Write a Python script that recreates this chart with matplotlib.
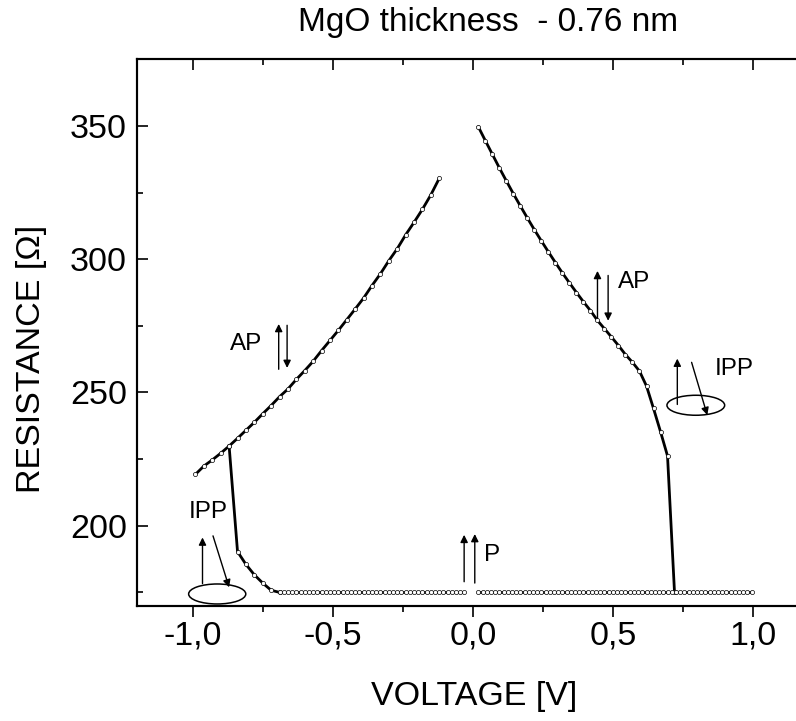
import numpy as np
import matplotlib
matplotlib.use("Agg")
import matplotlib.pyplot as plt
from matplotlib.patches import Ellipse
from matplotlib.ticker import MultipleLocator, FuncFormatter

plt.rcParams['font.family'] = ['Liberation Sans', 'DejaVu Sans']

# --- data ---
# AP branch, negative bias
v_ap_neg = [-0.99, -0.96, -0.93, -0.90, -0.87, -0.84, -0.81, -0.78, -0.75, -0.72,
            -0.69, -0.66, -0.63, -0.60, -0.57, -0.54, -0.51, -0.48, -0.45, -0.42,
            -0.39, -0.36, -0.33, -0.30, -0.27, -0.24, -0.21, -0.18, -0.15, -0.12]
r_ap_neg = [219.3, 222.4, 224.7, 227.2, 229.9, 232.8, 235.8, 238.8, 242.0, 245.1,
            248.4, 251.3, 254.9, 258.2, 261.7, 265.7, 269.5, 273.3, 277.3, 281.3,
            285.4, 290.1, 294.5, 299.4, 303.9, 309.1, 313.8, 318.7, 324.1, 330.3]

# switching AP -> P, negative bias
v_sw_neg = [-0.87, -0.84, -0.81, -0.78, -0.75, -0.72, -0.69]
r_sw_neg = [229.9, 190.3, 185.5, 181.6, 178.5, 175.8, 175.0]

# P state, negative bias
v_p_neg = [-0.690, -0.675, -0.660, -0.645, -0.630, -0.615, -0.600, -0.585, -0.570,
           -0.555, -0.540, -0.525, -0.510, -0.495, -0.480, -0.465, -0.450, -0.435,
           -0.420, -0.405, -0.390, -0.375, -0.360, -0.345, -0.330, -0.315, -0.300,
           -0.285, -0.270, -0.255, -0.240, -0.225, -0.210, -0.195, -0.180, -0.165,
           -0.150, -0.135, -0.120, -0.105, -0.090, -0.075, -0.060, -0.045, -0.030]
r_p_neg = [175.0] * len(v_p_neg)

# AP branch + switching, positive bias
v_ap_pos = [0.020, 0.045, 0.070, 0.095, 0.120, 0.145, 0.170, 0.195, 0.220, 0.245,
            0.270, 0.295, 0.320, 0.345, 0.370, 0.395, 0.420, 0.445, 0.470, 0.495,
            0.520, 0.545, 0.570, 0.595, 0.620, 0.645, 0.670, 0.695, 0.720]
r_ap_pos = [349.6, 344.4, 339.3, 334.2, 329.3, 324.5, 319.9, 315.4, 311.0, 306.8,
            302.7, 298.7, 294.8, 291.1, 287.5, 284.0, 280.7, 277.0, 273.9, 270.8,
            267.6, 264.2, 261.3, 258.0, 252.4, 244.0, 235.3, 226.2, 175.0]

# P state, positive bias
v_p_pos = [0.020, 0.035, 0.050, 0.065, 0.080, 0.095, 0.110, 0.125, 0.140, 0.155,
           0.170, 0.185, 0.200, 0.215, 0.230, 0.245, 0.260, 0.275, 0.290, 0.305,
           0.320, 0.335, 0.350, 0.365, 0.380, 0.395, 0.410, 0.425, 0.440, 0.455,
           0.470, 0.485, 0.500, 0.515, 0.530, 0.545, 0.560, 0.575, 0.590, 0.605,
           0.620, 0.635, 0.650, 0.665, 0.680, 0.695, 0.710, 0.725, 0.740, 0.755,
           0.770, 0.785, 0.800, 0.815, 0.830, 0.845, 0.860, 0.875, 0.890, 0.905,
           0.920, 0.935, 0.950, 0.965, 0.980, 0.995]
r_p_pos = [175.0] * len(v_p_pos)

TITLE = "MgO thickness  - 0.76 nm"


def draw(ax, v, r):
    ax.plot(v, r, color='black', lw=2.0, marker='o', ms=3.0,
            mfc='white', mec='black', mew=0.5, zorder=3)


def arrow(ax, x0, y0, x1, y1):
    ax.annotate('', xy=(x1, y1), xytext=(x0, y0),
                arrowprops=dict(arrowstyle='-|>', color='black', lw=1.0,
                                mutation_scale=11, shrinkA=0, shrinkB=0))


fig = plt.figure(figsize=(7.96, 7.21), dpi=100)
ax = fig.add_axes([0.1717, 0.1599, 0.8446, 0.7579])

for v, r in [(v_ap_neg, r_ap_neg), (v_sw_neg, r_sw_neg), (v_p_neg, r_p_neg),
             (v_ap_pos, r_ap_pos), (v_p_pos, r_p_pos)]:
    draw(ax, v, r)

ax.set_xlim(-1.2, 1.2)
ax.set_ylim(170, 375)

ax.xaxis.set_major_locator(MultipleLocator(0.5))
ax.xaxis.set_minor_locator(MultipleLocator(0.25))
ax.yaxis.set_major_locator(MultipleLocator(50))
ax.yaxis.set_minor_locator(MultipleLocator(25))


def comma(v, pos):
    if abs(v) < 1e-9:
        v = 0.0
    return f"{v:.1f}".replace('.', ',')


ax.xaxis.set_major_formatter(FuncFormatter(comma))
ax.tick_params(axis='x', which='both', direction='out', top=False,
               labelsize=24.5, pad=3)
ax.tick_params(axis='y', which='both', direction='in', right=False,
               labelsize=24.5, pad=7)
ax.tick_params(which='major', length=8, width=1.2)
ax.tick_params(which='minor', length=4, width=1.2)
for s in ax.spines.values():
    s.set_linewidth(1.5)

# top ticks pointing inwards
ax2 = ax.twiny()
ax2.set_xlim(ax.get_xlim())
ax2.xaxis.set_major_locator(MultipleLocator(0.5))
ax2.xaxis.set_minor_locator(MultipleLocator(0.25))
ax2.tick_params(axis='x', which='both', direction='in', labeltop=False)
ax2.tick_params(which='major', length=8, width=1.2)
ax2.tick_params(which='minor', length=4, width=1.2)
for s in ax2.spines.values():
    s.set_linewidth(1.5)

# annotations
fs = 17.5
ax.text(-0.808, 268.0, "AP", fontsize=fs, ha='center', va='center')
arrow(ax, -0.693, 258.7, -0.693, 275.7)
arrow(ax, -0.663, 275.2, -0.663, 259.2)

ax.text(0.577, 291.3, "AP", fontsize=fs, ha='center', va='center')
arrow(ax, 0.445, 277.9, 0.445, 295.6)
arrow(ax, 0.483, 293.9, 0.483, 276.9)

ax.text(0.932, 258.7, "IPP", fontsize=fs, ha='center', va='center')
arrow(ax, 0.730, 245.5, 0.730, 262.7)
arrow(ax, 0.781, 261.3, 0.837, 241.5)
ax.add_patch(Ellipse((0.796, 245.2), 0.206, 7.5, fill=False, lw=1.1, color='black'))

ax.text(-0.945, 205.0, "IPP", fontsize=fs, ha='center', va='center')
arrow(ax, -0.965, 178.3, -0.965, 195.6)
arrow(ax, -0.9275, 196.2, -0.870, 176.9)
ax.add_patch(Ellipse((-0.9125, 174.4), 0.204, 7.5, fill=False, lw=1.1, color='black'))

ax.text(0.070, 189.1, "P", fontsize=fs, ha='center', va='center')
arrow(ax, -0.031, 179.0, -0.031, 196.6)
arrow(ax, 0.007, 178.5, 0.007, 196.9)

fig.text(474.5 / 796, 1 - 697 / 721, "VOLTAGE [V]", fontsize=24.5,
         ha='center', va='center')
fig.text(32 / 796, 1 - 359 / 721, "RESISTANCE [\u03a9]", fontsize=24.5,
         ha='center', va='center', rotation=90)
fig.text(488 / 796, 1 - 23 / 721, TITLE, fontsize=24, ha='center', va='center')

fig.savefig("out.png", dpi=100)
